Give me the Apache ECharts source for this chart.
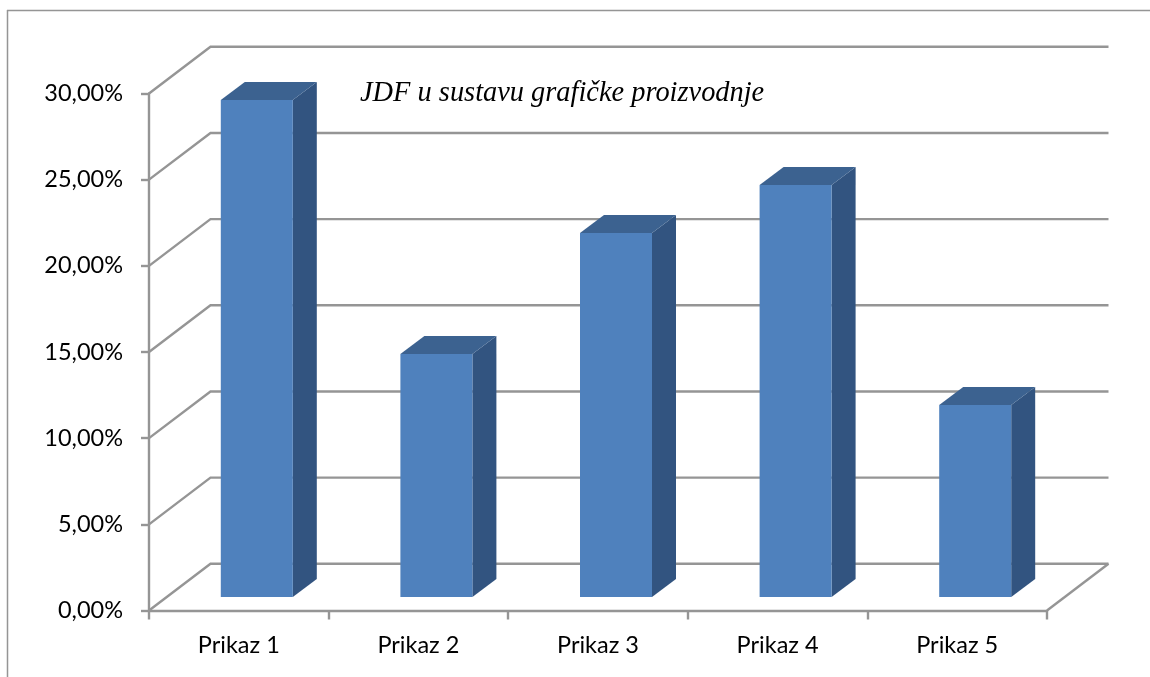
<!DOCTYPE html>
<html>
<head>
<meta charset="utf-8">
<style>html,body{margin:0;padding:0;background:#fff}#c{width:1150px;height:677px}</style>
<script src="https://cdn.jsdelivr.net/npm/echarts@6/dist/echarts.min.js"></script>
</head>
<body>
<div id="c"></div>
<script>
const chartTitle = 'JDF u sustavu grafičke proizvodnje';
const categories = ['Prikaz 1', 'Prikaz 2', 'Prikaz 3', 'Prikaz 4', 'Prikaz 5'];
const values = [28.84, 14.1, 21.12, 23.9, 11.14];
const wallTicks = [0, 5, 10, 15, 20, 25, 30];

const LINE = '#959595';
const FRONT = '#4f81bd', TOP = '#3c6290', SIDE = '#325480';
const WALL_DX = 61.5, WALL_DY = -46.7;
const BASE_DX = 18, BASE_DY = -13.5, BAR_W = 72, DEPTH_DX = 24, DEPTH_DY = -18;

const chart = echarts.init(document.getElementById('c'), null, {renderer: 'canvas'});
chart.setOption({
  animation: false,
  backgroundColor: '#fff',
  title: {
    text: chartTitle, left: 355, top: 75,
    textStyle: {fontFamily: 'Liberation Serif', fontStyle: 'italic', fontWeight: 'normal', fontSize: 28.4, color: '#000'}
  },
  grid: {left: 149, right: 103, top: 93.5, bottom: 66.5},
  xAxis: {
    type: 'category', data: categories,
    axisLine: {lineStyle: {color: LINE, width: 2.4}},
    axisTick: {show: true, length: 9, lineStyle: {color: LINE, width: 2.4}},
    axisLabel: {fontFamily: 'Lato', fontSize: 23.5, color: '#000', margin: 23}
  },
  yAxis: {
    type: 'value', min: 0, max: 30, interval: 5,
    axisLine: {show: true, lineStyle: {color: LINE, width: 2.4}},
    axisTick: {show: true, length: 8, lineStyle: {color: LINE, width: 2.4}},
    splitLine: {show: false},
    axisLabel: {
      fontFamily: 'Lato', fontSize: 23.5, color: '#000', margin: 26,
      formatter: v => v.toFixed(2).replace('.', ',') + '%'
    }
  },
  series: [
    {
      type: 'custom', silent: true, clip: false, z: 1,
      data: wallTicks.map(t => [0, t]),
      encode: {x: 0, y: 1},
      renderItem(params, api) {
        const cs = params.coordSys;
        const y = api.coord([0, api.value(1)])[1];
        const x0 = cs.x, x1 = cs.x + cs.width;
        const children = [{
          type: 'polyline',
          shape: {points: [[x0, y], [x0 + WALL_DX, y + WALL_DY], [x1 + WALL_DX, y + WALL_DY]]},
          style: {fill: null, stroke: LINE, lineWidth: 2.4}
        }];
        if (api.value(1) === 0) {
          children.push({
            type: 'line',
            shape: {x1: x1, y1: y, x2: x1 + WALL_DX, y2: y + WALL_DY},
            style: {stroke: LINE, lineWidth: 2.4}
          });
        }
        return {type: 'group', children};
      }
    },
    {
      type: 'custom', silent: true, clip: false, z: 3,
      data: values.map((v, i) => [i, v]),
      encode: {x: 0, y: 1},
      renderItem(params, api) {
        const i = api.value(0), v = api.value(1);
        const top = api.coord([i, v]), base = api.coord([i, 0]);
        const l = top[0] + BASE_DX - BAR_W / 2, r = l + BAR_W;
        const t = top[1] + BASE_DY, b = base[1] + BASE_DY;
        return {type: 'group', children: [
          {type: 'polygon', shape: {points: [[r, t], [r + DEPTH_DX, t + DEPTH_DY], [r + DEPTH_DX, b + DEPTH_DY], [r, b]]}, style: {fill: SIDE}},
          {type: 'polygon', shape: {points: [[l, t], [l + DEPTH_DX, t + DEPTH_DY], [r + DEPTH_DX, t + DEPTH_DY], [r, t]]}, style: {fill: TOP}},
          {type: 'rect', shape: {x: l, y: t, width: BAR_W, height: b - t}, style: {fill: FRONT}}
        ]};
      }
    }
  ],
  graphic: [
    {type: 'line', shape: {x1: 7, y1: 10.5, x2: 1150, y2: 10.5}, style: {stroke: LINE, lineWidth: 1.5}},
    {type: 'line', shape: {x1: 7.5, y1: 10, x2: 7.5, y2: 677}, style: {stroke: LINE, lineWidth: 1.5}}
  ]
});
</script>
</body>
</html>
